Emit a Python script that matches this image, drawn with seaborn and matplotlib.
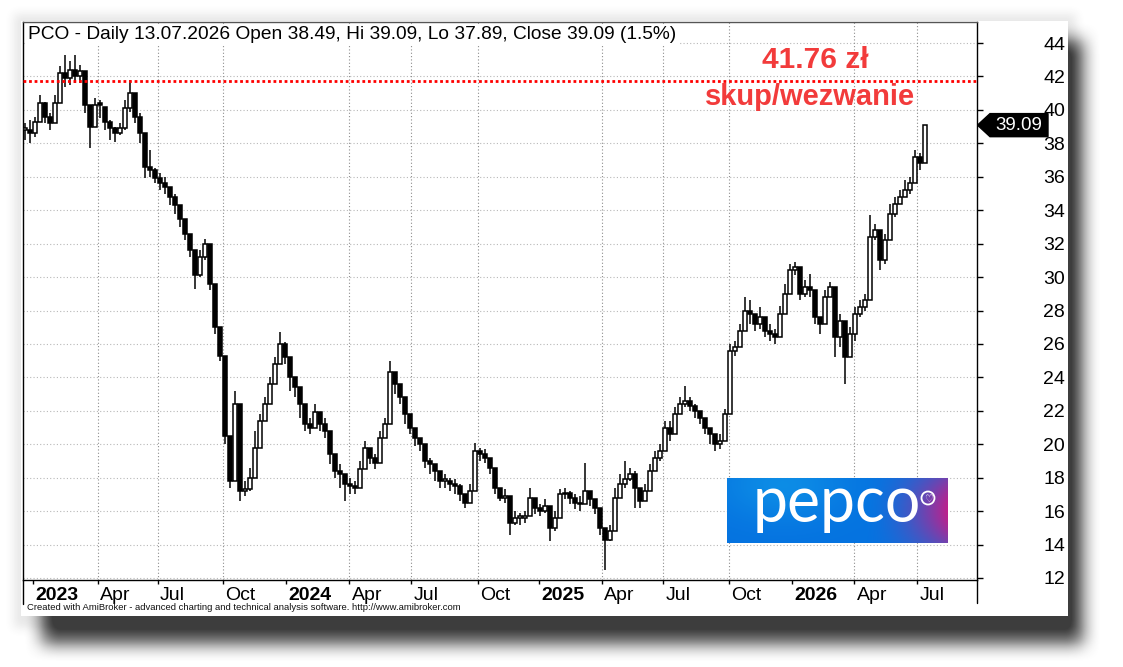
import numpy as np
import matplotlib
matplotlib.use('Agg')
import matplotlib.pyplot as plt
import seaborn as sns
from matplotlib.patches import Rectangle, Polygon, Circle
from matplotlib.transforms import blended_transform_factory, ScaledTranslation

# PCO, one candle per ~5 sessions
close = [38.8, 38.6, 39.3, 40.4, 39.6, 39.2, 40.4, 42.2, 41.9, 42.4,
         42.0, 42.3, 40.3, 39.0, 40.3, 40.2, 39.3, 38.9, 38.6, 38.9,
         40.1, 41.0, 39.6, 38.6, 36.6, 36.4, 35.9, 35.6, 35.4, 34.8,
         34.3, 33.5, 32.6, 31.6, 30.1, 31.2, 32.0, 29.6, 27.0, 25.3,
         20.5, 17.8, 22.4, 17.2, 17.3, 18.0, 19.8, 21.4, 22.4, 23.6,
         24.8, 26.0, 25.2, 24.0, 23.4, 22.4, 21.2, 21.0, 21.9, 21.2,
         20.8, 19.4, 18.4, 18.2, 17.6, 17.5, 17.4, 18.5, 19.8, 19.2,
         18.9, 20.4, 21.2, 24.3, 23.6, 22.8, 21.8, 21.0, 20.4, 20.0,
         19.0, 18.8, 18.4, 17.8, 17.8, 17.6, 17.5, 17.0, 16.5, 17.2,
         19.6, 19.4, 19.2, 18.6, 17.4, 16.8, 16.9, 15.3, 15.6, 15.6,
         15.7, 16.8, 16.2, 16.0, 16.3, 15.0, 15.6, 17.0, 17.1, 16.8,
         16.5, 16.4, 17.2, 16.7, 16.2, 15.0, 14.3, 14.8, 16.8, 17.6,
         17.9, 18.2, 17.4, 16.6, 17.2, 18.4, 19.2, 19.6, 21.0, 20.6,
         21.8, 22.4, 22.6, 22.3, 22.0, 21.6, 21.0, 20.6, 20.0, 20.2,
         21.8, 25.6, 25.8, 26.8, 28.0, 27.8, 27.2, 27.6, 26.8, 26.6,
         26.4, 27.8, 29.0, 30.4, 30.6, 29.0, 29.4, 29.2, 27.6, 27.2,
         28.8, 29.4, 26.4, 27.4, 25.2, 26.6, 27.8, 28.2, 28.6, 32.4,
         32.8, 31.0, 32.2, 33.8, 34.4, 34.8, 35.2, 35.6, 37.2, 36.8,
         39.09]
high = [39.2, 39.4, 39.6, 40.9, 40.5, 39.8, 40.9, 42.6, 43.3, 42.9,
        43.3, 42.7, 42.3, 40.3, 40.7, 40.6, 40.2, 39.4, 39.0, 39.2,
        40.6, 41.8, 41.0, 39.8, 38.6, 37.6, 36.5, 36.2, 36.0, 35.4,
        35.0, 34.3, 33.5, 32.6, 31.6, 31.6, 32.3, 32.0, 29.6, 27.0,
        25.3, 20.5, 23.2, 22.4, 17.8, 18.6, 20.8, 21.8, 22.8, 24.0,
        25.2, 26.7, 26.1, 25.2, 24.0, 23.4, 22.4, 21.6, 22.4, 21.9,
        21.6, 20.8, 19.4, 18.8, 18.2, 18.0, 17.8, 19.0, 20.2, 19.8,
        19.4, 20.8, 21.6, 25.0, 24.3, 23.6, 22.8, 21.8, 21.0, 20.4,
        20.0, 19.2, 18.8, 18.4, 18.2, 18.0, 17.9, 17.6, 17.0, 17.6,
        20.1, 19.8, 19.7, 19.2, 18.6, 17.4, 17.3, 16.9, 16.0, 15.9,
        16.0, 17.4, 16.8, 16.4, 16.7, 16.3, 16.0, 17.3, 17.4, 17.2,
        17.0, 16.9, 18.9, 17.2, 16.7, 16.2, 15.0, 15.2, 17.4, 18.2,
        19.0, 18.6, 18.4, 17.4, 17.6, 18.8, 19.6, 20.0, 21.4, 21.4,
        22.2, 22.8, 23.5, 22.8, 22.4, 22.0, 21.6, 21.0, 20.6, 20.6,
        22.1, 26.0, 26.2, 27.2, 28.8, 28.6, 27.8, 28.2, 27.6, 27.2,
        26.9, 28.3, 29.6, 30.8, 30.9, 30.6, 29.8, 30.2, 29.2, 27.6,
        29.2, 29.7, 29.4, 27.8, 27.4, 27.0, 28.2, 28.6, 29.0, 33.7,
        33.2, 32.8, 32.6, 34.4, 34.8, 35.2, 35.8, 36.0, 37.6, 37.4,
        39.09]
low = [38.2, 38.0, 38.4, 39.3, 39.2, 38.8, 39.2, 40.4, 41.4, 41.5,
       41.6, 41.6, 39.8, 37.7, 39.0, 39.5, 38.8, 38.2, 38.1, 38.5,
       38.8, 39.9, 39.2, 38.0, 35.9, 36.0, 35.6, 35.2, 35.0, 34.3,
       33.8, 33.0, 32.2, 31.2, 29.3, 30.0, 31.0, 29.2, 26.6, 25.0,
       20.0, 17.4, 17.8, 16.6, 16.9, 17.2, 18.0, 19.8, 21.4, 22.4,
       23.6, 24.8, 24.8, 23.2, 22.8, 21.6, 20.8, 20.6, 21.0, 20.8,
       20.4, 18.8, 18.0, 17.4, 16.6, 17.0, 17.0, 17.4, 18.5, 18.8,
       18.5, 18.9, 20.4, 21.2, 23.0, 22.4, 21.2, 20.6, 19.9, 19.6,
       18.6, 18.2, 17.8, 17.4, 17.4, 17.2, 17.0, 16.6, 16.2, 16.5,
       17.2, 19.0, 18.9, 18.2, 17.0, 16.6, 16.5, 14.6, 15.2, 15.2,
       15.3, 15.7, 15.8, 15.7, 15.9, 14.2, 14.8, 15.6, 16.7, 16.4,
       16.1, 16.0, 16.4, 16.3, 15.8, 14.6, 12.5, 14.2, 14.8, 16.8,
       17.4, 17.8, 16.2, 16.2, 16.6, 17.2, 18.4, 19.0, 19.6, 20.2,
       20.6, 21.8, 22.2, 22.0, 21.6, 21.2, 20.6, 20.0, 19.6, 19.7,
       20.2, 21.8, 25.3, 25.8, 26.8, 27.2, 26.8, 26.9, 26.4, 26.2,
       26.0, 26.4, 27.8, 29.0, 30.1, 28.6, 28.8, 28.8, 27.2, 26.6,
       27.2, 28.8, 25.2, 25.8, 23.6, 25.2, 26.2, 27.6, 28.0, 28.6,
       32.2, 30.4, 30.8, 32.2, 33.6, 34.4, 34.8, 35.0, 35.6, 36.4,
       36.8]

# session number (from chart start) where each axis label begins
label_session = [10, 74.5, 134.5, 199.5, 262.7, 326, 388, 454.5, 515.6,
                 578.8, 640, 706, 769, 831, 894]
tick_labels = ['2023', 'Apr', 'Jul', 'Oct', '2024', 'Apr', 'Jul', 'Oct',
               '2025', 'Apr', 'Jul', 'Oct', '2026', 'Apr', 'Jul']
price_ticks = list(range(12, 45, 2))
offer_price = 41.76
last_close = 39.09
title = 'PCO - Daily 13.07.2026 Open 38.49, Hi 39.09, Lo 37.89, Close 39.09 (1.5%)'

sns.set_theme(style='white')
plt.rcParams['font.family'] = ['Liberation Sans', 'DejaVu Sans']

W, H = 1123, 667
fig = plt.figure(figsize=(W / 100, H / 100), dpi=100)
fig.patch.set_facecolor('white')

# drop shadow + white panel
bg = fig.add_axes([0, 0, 1, 1])
bg.axis('off')


def box_blur(a, r):
    k = np.ones(2 * r + 1) / (2 * r + 1)
    a = np.apply_along_axis(lambda m: np.convolve(m, k, mode='same'), 0, a)
    a = np.apply_along_axis(lambda m: np.convolve(m, k, mode='same'), 1, a)
    return a


dark = np.zeros((H, W))
dark[40:644, 42:1083] = 1.0
glow = np.zeros((H, W))
glow[14:628, 14:1076] = 1.0
for _ in range(2):
    dark = box_blur(dark, 9)
    glow = box_blur(glow, 5)
shade = np.zeros((H, W, 4))
shade[..., :3] = 0.24
shade[..., 3] = np.clip(dark * 0.98 + glow * 0.12, 0, 1)
bg.imshow(shade, extent=(0, W, H, 0), aspect='auto', interpolation='bilinear')
bg.add_patch(Rectangle((21, 21), 1047, 595, facecolor='white', edgecolor='none'))
bg.plot([977, 977], [580, 603], color='black', lw=1)
bg.plot([23, 23], [580, 604], color='black', lw=1)
bg.set_xlim(0, W)
bg.set_ylim(H, 0)
fig.text(27 / W, 1 - 608 / H,
         'Created with AmiBroker - advanced charting and technical analysis software. http://www.amibroker.com',
         fontsize=6.8, va='center', ha='left', color='#111111')

# price chart
ax = fig.add_axes([23 / W, 1 - 580 / H, 954 / W, 558 / H])
ax.set_facecolor('white')

c = np.array(close)
o = np.r_[c[0], c[:-1]]
x = np.arange(len(c)) * 5 + 2
up = c >= o
body = np.where(np.abs(c - o) < 0.1, 0.1, c - o)

ax.vlines(x, low, high, color='black', lw=1.1, zorder=3)
ax.bar(x[up], body[up], bottom=o[up], width=4.6, facecolor='white',
       edgecolor='black', linewidth=1.1, zorder=4)
ax.bar(x[~up], body[~up], bottom=o[~up], width=4.6, facecolor='black',
       edgecolor='black', linewidth=1.1, zorder=4)

ax.axhline(offer_price, color='#ff0000', ls=(0, (1, 1)), lw=2, zorder=5)

ax.set_xlim(0, 954)
ax.set_ylim(11.88, 45.26)

ax.set_yticks(price_ticks)
ax.grid(True, axis='y', color='#b8b8b8', linestyle=(0, (1, 2)), lw=0.8)
ax.set_axisbelow(True)
for pos, lab in zip(label_session, tick_labels):
    if not lab.isdigit():
        ax.axvline(pos, color='#8c8c8c', ls=(0, (1, 2)), lw=0.8, zorder=1)

ax.yaxis.tick_right()
ax.tick_params(axis='y', direction='out', length=4, width=1, color='black',
               labelsize=14, labelcolor='black', pad=59.5, right=True, left=False)
for lab in ax.get_yticklabels():
    lab.set_ha('right')

ax.set_xticks(label_session)
ax.set_xticklabels(tick_labels)
ax.tick_params(axis='x', direction='out', length=3, width=1, color='black',
               labelsize=14, labelcolor='black', pad=2, bottom=True)
shift = ScaledTranslation(2.5 / 100, 0, fig.dpi_scale_trans)
for lab in ax.get_xticklabels():
    lab.set_ha('left')
    lab.set_transform(lab.get_transform() + shift)
    if lab.get_text().isdigit():
        lab.set_fontweight('bold')

for s in ax.spines.values():
    s.set_color('black')
    s.set_linewidth(1)
ax.spines['top'].set_color('#555555')

ax.text(0.005, 0.977, title, transform=ax.transAxes, fontsize=13.8,
        ha='left', va='center', color='black', zorder=6,
        bbox=dict(facecolor='white', edgecolor='none', pad=2))

ax.text(0.830, 0.932, '41.76 zł', transform=ax.transAxes, fontsize=21.5,
        fontweight='bold', color='#f23b3b', ha='center', va='center', zorder=6)
ax.text(0.825, 0.866, 'skup/wezwanie', transform=ax.transAxes, fontsize=21,
        fontweight='bold', color='#f23b3b', ha='center', va='center', zorder=6)

# last price marker on the right axis
tr = blended_transform_factory(ax.transAxes, ax.transData)
hh = 0.69
ax.add_patch(Polygon([(1.0005, last_close), (1 + 13 / 954, last_close + hh),
                      (1 + 71 / 954, last_close + hh), (1 + 71 / 954, last_close - hh),
                      (1 + 13 / 954, last_close - hh)],
                     closed=True, transform=tr, facecolor='black',
                     edgecolor='black', clip_on=False, zorder=7))
ax.text(1 + 42 / 954, last_close, f'{last_close:.2f}', transform=tr,
        fontsize=13.5, color='white', ha='center', va='center', zorder=8,
        clip_on=False)

# pepco logo
lg = fig.add_axes([727 / W, 1 - 543 / H, 221 / W, 65 / H])
gx, gy = np.meshgrid(np.linspace(0, 1, 221), np.linspace(0, 1, 65))
blue = np.array([0.02, 0.45, 0.88])
light = np.array([0.05, 0.55, 0.90])
magenta = np.array([0.74, 0.13, 0.55])
wl = np.exp(-((gx - 0.25) ** 2 / 0.08 + (gy - 0.1) ** 2 / 0.3))[..., None]
wm = (np.clip((gx - 0.62) / 0.38, 0, 1) ** 1.8
      * np.exp(-(gy - 0.5) ** 2 / 0.5))[..., None]
grad = blue * (1 - wl) + light * wl
grad = grad * (1 - wm) + magenta * wm
lg.imshow(grad, extent=(0, 221, 65, 0), aspect='auto', interpolation='bilinear')
lg.set_xlim(0, 221)
lg.set_ylim(65, 0)
lg.axis('off')
lg.text(110, 44, 'pepco', fontsize=45, color='white', ha='center',
        va='baseline', family=['Lato', 'DejaVu Sans'], fontweight='normal')
lg.add_patch(Circle((201, 20), 6.5, fill=False, ec='white', lw=1.3))
lg.text(201, 20.5, '♡', fontsize=7, color='white', ha='center', va='center',
        family=['DejaVu Sans'])

fig.savefig('out.png', dpi=100, facecolor='white')
